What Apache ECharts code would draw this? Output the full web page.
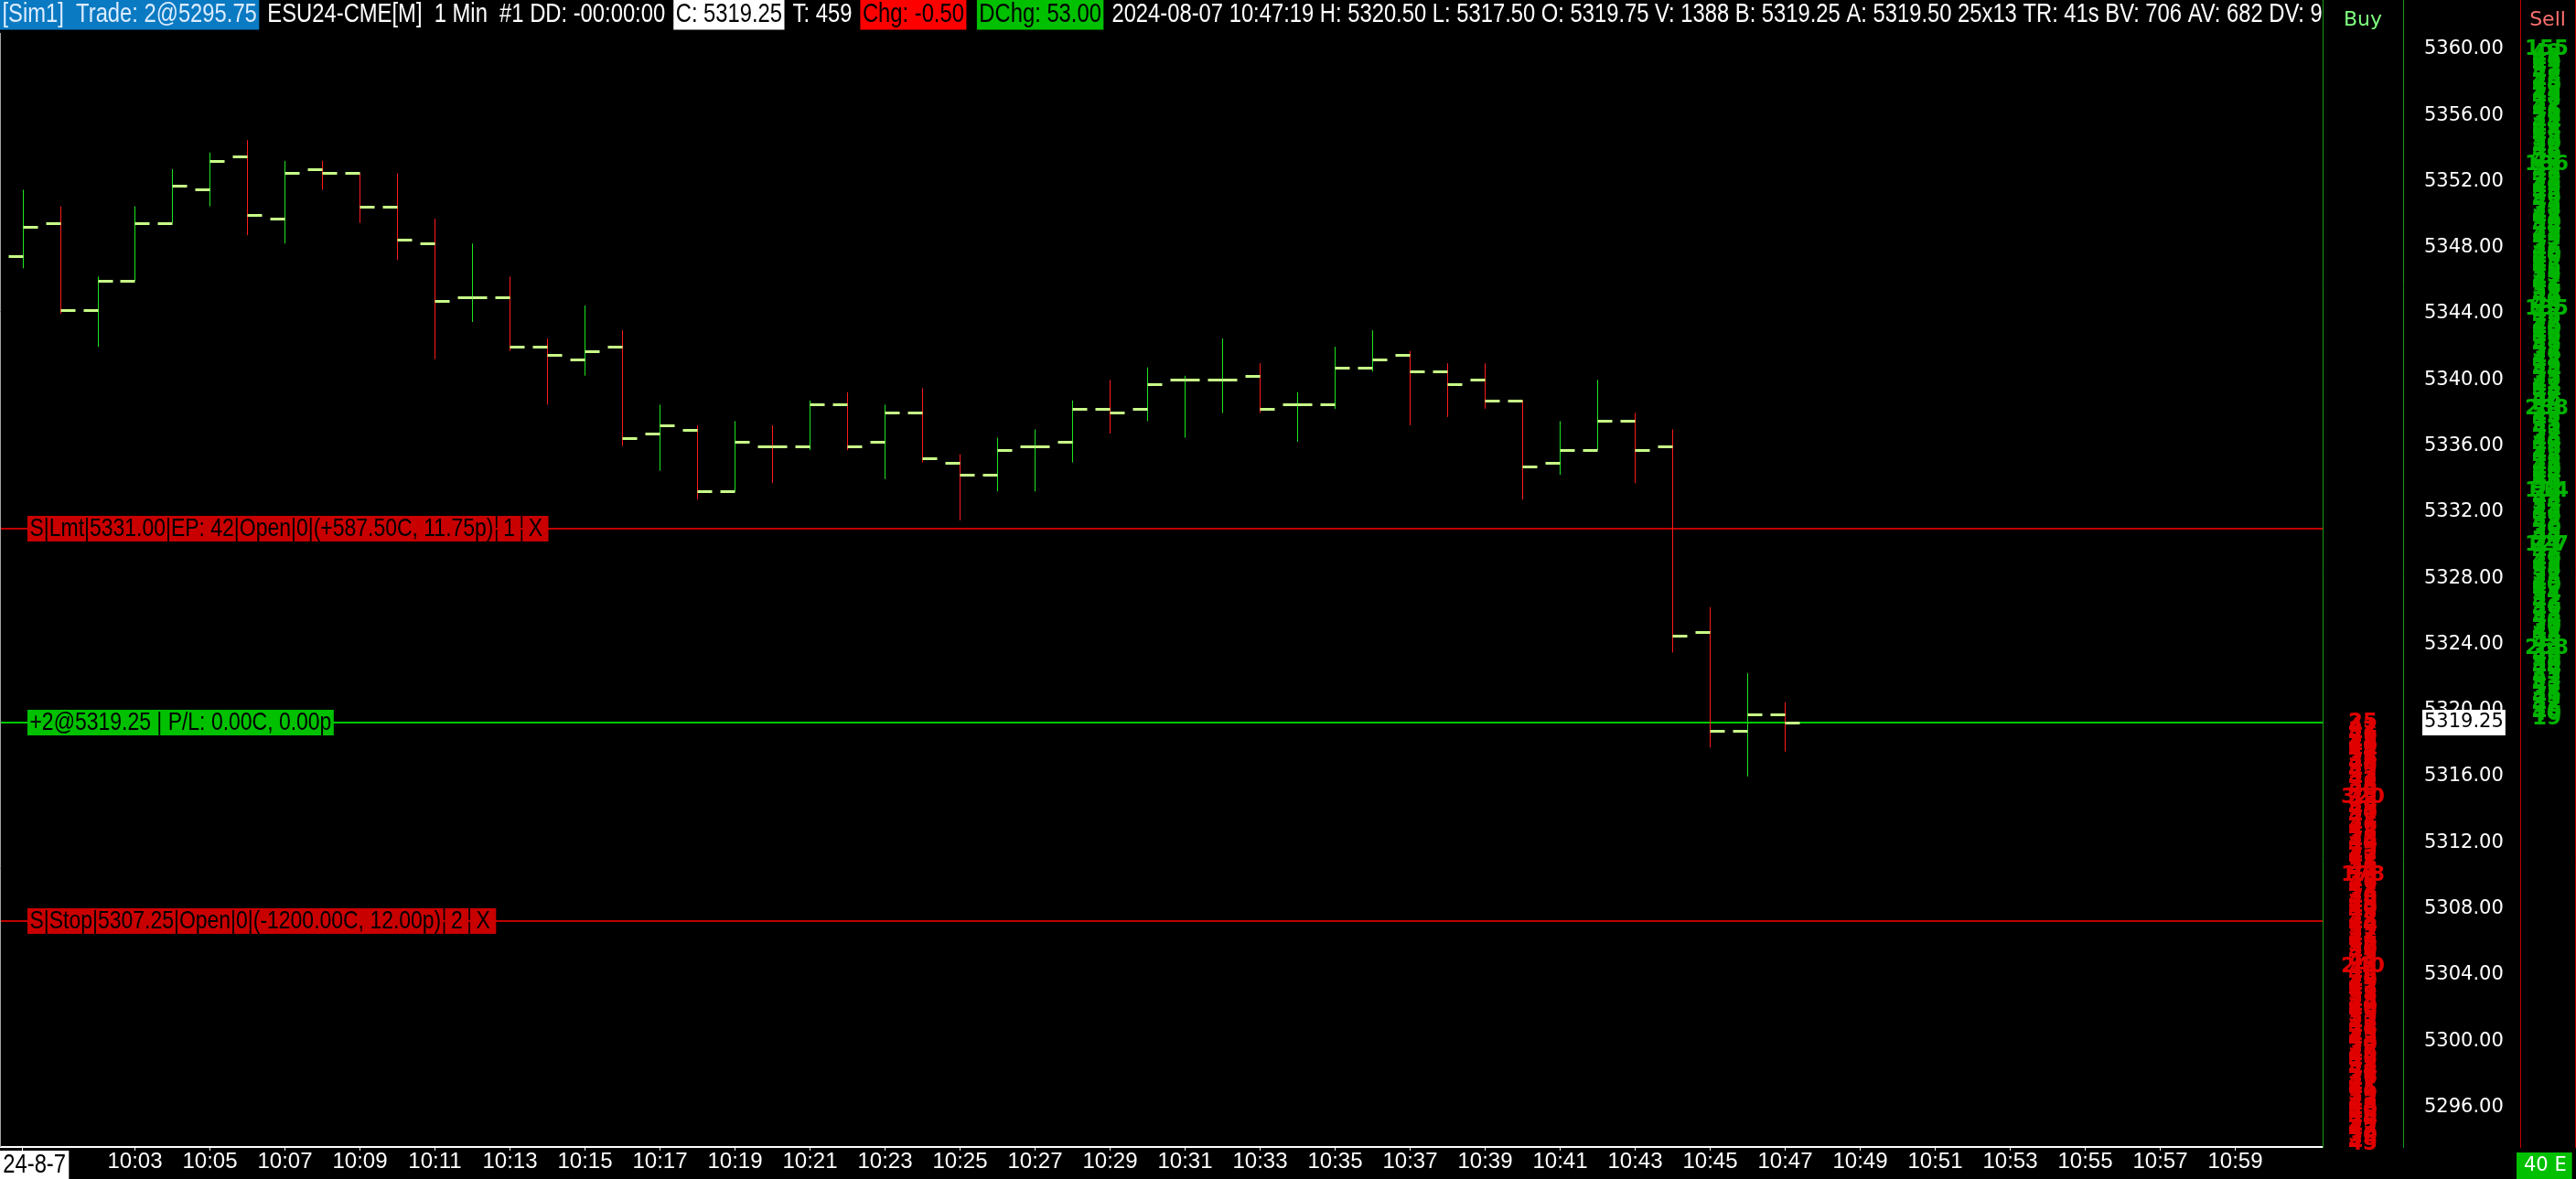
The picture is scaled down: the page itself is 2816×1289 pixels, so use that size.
<!DOCTYPE html>
<html>
<head>
<meta charset="utf-8">
<title>ESU24-CME[M] 1 Min</title>
<script src="https://cdn.jsdelivr.net/npm/echarts@6/dist/echarts.min.js"></script>
<style>
  html, body { margin: 0; padding: 0; background: #000; }
  #main { width: 2816px; height: 1289px; }
</style>
</head>
<body>
<div id="main"></div>
<script>
// one-minute bars, 10:00 .. 10:47
var barTimes = ['10:00','10:01','10:02','10:03','10:04','10:05','10:06','10:07','10:08','10:09',
                '10:10','10:11','10:12','10:13','10:14','10:15','10:16','10:17','10:18','10:19',
                '10:20','10:21','10:22','10:23','10:24','10:25','10:26','10:27','10:28','10:29',
                '10:30','10:31','10:32','10:33','10:34','10:35','10:36','10:37','10:38','10:39',
                '10:40','10:41','10:42','10:43','10:44','10:45','10:46','10:47'];
var opens  = [5347.50,5349.50,5344.25,5346.00,5349.50,5351.50,5353.50,5349.75,5352.75,5352.50,
              5350.50,5348.25,5345.00,5345.00,5342.00,5341.25,5342.00,5336.75,5337.00,5333.25,
              5336.00,5336.00,5338.50,5336.25,5338.00,5335.00,5334.25,5336.00,5336.25,5338.25,
              5338.25,5340.00,5340.00,5340.25,5338.50,5338.50,5340.75,5341.50,5340.50,5340.00,
              5338.75,5335.00,5335.75,5337.50,5336.00,5324.75,5318.75,5319.75];
var highs  = [5351.50,5350.50,5346.25,5350.50,5352.75,5353.75,5354.50,5353.25,5353.25,5352.50,
              5352.50,5349.75,5348.25,5346.25,5342.50,5344.50,5343.00,5338.50,5337.25,5337.50,
              5337.25,5338.75,5339.25,5338.50,5339.50,5335.50,5336.50,5337.00,5338.75,5340.00,
              5340.75,5340.25,5342.50,5341.00,5339.25,5342.00,5343.00,5341.75,5341.00,5341.00,
              5338.75,5337.50,5340.00,5338.00,5337.00,5326.25,5322.25,5320.50];
var lows   = [5346.75,5344.00,5342.00,5346.00,5349.50,5350.50,5348.75,5348.25,5351.50,5349.50,
              5347.25,5341.25,5343.50,5341.75,5338.50,5340.25,5336.00,5334.50,5332.75,5333.25,
              5333.75,5335.75,5335.75,5334.00,5335.00,5331.50,5333.25,5333.25,5335.00,5336.75,
              5337.50,5336.50,5338.00,5338.00,5336.25,5338.25,5340.50,5337.25,5337.75,5338.25,
              5332.75,5334.25,5335.75,5333.75,5323.50,5317.75,5316.00,5317.50];
var closes = [5349.25,5344.25,5346.00,5349.50,5351.75,5353.25,5350.00,5352.50,5352.50,5350.50,
              5348.50,5344.75,5345.00,5342.00,5341.50,5341.75,5336.50,5337.25,5333.25,5336.25,
              5336.00,5338.50,5336.00,5338.00,5335.25,5334.25,5335.75,5336.00,5338.25,5338.00,
              5339.75,5340.00,5340.00,5338.25,5338.50,5340.75,5341.25,5340.50,5339.75,5338.75,
              5334.75,5335.75,5337.50,5335.75,5324.50,5318.75,5319.75,5319.25];

var timeLabels = ['10:03','10:05','10:07','10:09','10:11','10:13','10:15','10:17','10:19','10:21',
                  '10:23','10:25','10:27','10:29','10:31','10:33','10:35','10:37','10:39','10:41',
                  '10:43','10:45','10:47','10:49','10:51','10:53','10:55','10:57','10:59'];
var priceLabels = [5296,5300,5304,5308,5312,5316,5320,5324,5328,5332,5336,5340,5344,5348,5352,5356,5360];

// working orders / position lines
var orderPrices = [5331.00, 5319.25, 5307.25];
var orderTexts  = ['S|Lmt|5331.00|EP: 42|Open|0|(+587.50C, 11.75p)',
                   '+2@5319.25 | P/L: 0.00C, 0.00p',
                   'S|Stop|5307.25|Open|0|(-1200.00C, 12.00p)'];
var orderButtons = [['1', 'X'], [], ['2', 'X']];
var orderKinds   = ['sell', 'position', 'sell'];
var lastPrice = 5319.25;

// depth columns, one size per 0.25 tick
var sellStart = 5319.50;   // upward
var sellSizes = [19,40,36,42,31,45,38,52,47,33,41,29,44,50,37,46,
                 39,258,43,35,48,41,30,55,44,38,49,36,42,51,34,47,
                 40,45,33,52,38,43,49,36,47,41,127,39,44,35,50,42,
                 37,46,41,53,34,48,39,114,51,36,43,44,40,47,38,45,
                 42,36,49,44,38,52,41,35,47,43,50,238,39,46,37,44,
                 48,41,35,53,44,39,47,42,36,51,45,38,49,43,40,46,
                 37,45,42,135,48,39,44,51,36,47,41,53,38,45,42,49,
                 40,46,37,52,43,48,35,44,50,41,47,38,53,42,36,45,
                 49,43,38,47,41,52,136,44,39,46,42,50,37,45,48,41,
                 44,39,51,46,42,37,48,43,53,40,45,38,47,52,41,46,
                 43,49,155];
var buyStart = 5319.25;    // downward
var buySizes = [25,41,37,46,33,48,40,44,51,36,43,39,47,52,42,38,
                45,39,320,48,36,43,50,41,37,46,42,53,38,44,49,35,
                47,42,38,51,44,178,39,46,41,53,36,45,49,40,43,37,
                48,44,39,52,41,46,37,50,43,38,47,240,42,45,36,49,
                41,47,38,53,44,40,46,35,51,42,48,39,45,43,50,37,
                46,42,49,38,44,51,36,47,41,45,39,52,43,48,40,46,
                44,39,47,42,50,38,45];

function toMin(t) {
    var p = t.split(':');
    return (+p[0] - 10) * 60 + (+p[1]);
}

// narrow font if installed, else squeeze the regular one
var probe = document.createElement('canvas').getContext('2d');
function textWidth(f) {
    probe.font = '40px ' + f;
    return probe.measureText('10:03 Trade 5319.25').width;
}
var hasNarrow = textWidth('"Liberation Sans Narrow", monospace') !== textWidth('monospace');
var NARROW = hasNarrow ? '"Liberation Sans Narrow"' : '"Liberation Sans", Arial, sans-serif';
var squeeze = hasNarrow ? 1 : 0.82;
var WIDE = '"DejaVu Sans", Verdana, sans-serif';
var F = 29;

var myChart = echarts.init(document.getElementById('main'));

function renderBar(params, api) {
    var i = params.dataIndex;
    var x = Math.round(api.coord([api.value(0), api.value(1)])[0]) + 0.5;
    var yO = Math.round(api.coord([0, api.value(1)])[1]);
    var yH = api.coord([0, api.value(2)])[1];
    var yL = api.coord([0, api.value(3)])[1];
    var yC = Math.round(api.coord([0, api.value(4)])[1]);
    var up = closes[i] > opens[i] || (closes[i] === opens[i] && (i === 0 || closes[i] >= closes[i - 1]));
    return {
        type: 'group',
        children: [
            { type: 'line', shape: { x1: x, y1: yH, x2: x, y2: yL },
              style: { stroke: up ? '#1ee61e' : '#ff1a1a', lineWidth: 1 } },
            { type: 'rect', shape: { x: x - 16, y: yO - 1, width: 16, height: 3 }, style: { fill: '#c8ff88' } },
            { type: 'rect', shape: { x: x, y: yC - 1, width: 16, height: 3 }, style: { fill: '#c8ff88' } }
        ]
    };
}

function renderOrder(params, api) {
    var i = params.dataIndex;
    var cs = params.coordSys;
    var y = Math.round(api.coord([0, api.value(1)])[1]);
    var col = orderKinds[i] === 'position' ? '#00c000' : '#c80000';
    var lineCol = orderKinds[i] === 'position' ? '#00c800' : '#c00000';
    var txt = '{m|' + orderTexts[i] + '}';
    orderButtons[i].forEach(function (b) { txt += '{s| }{k|' + b + '}'; });
    return {
        type: 'group',
        children: [
            { type: 'line', shape: { x1: cs.x, y1: y, x2: cs.x + cs.width, y2: y },
              style: { stroke: lineCol, lineWidth: 2 } },
            { type: 'text', x: 30, y: y, scaleX: squeeze,
              style: {
                  text: txt, verticalAlign: 'middle', fill: '#000',
                  fontSize: 28, fontFamily: NARROW,
                  rich: {
                      m: { backgroundColor: col, fill: '#000', padding: [0, 3], lineHeight: 30, fontSize: 28, fontFamily: NARROW },
                      k: { backgroundColor: col, fill: '#000', padding: [0, 8], lineHeight: 30, fontSize: 28, fontFamily: NARROW },
                      s: { width: 2, lineHeight: 30, fontSize: 28 }
                  }
              } }
        ]
    };
}

function ladderRenderer(offset, color) {
    return function (params, api) {
        var cs = params.coordSys;
        var y = api.coord([0, api.value(1)])[1];
        return {
            type: 'text', x: cs.x + cs.width + offset, y: y,
            style: { text: String(api.value(2)), fill: color, fontSize: 23, fontWeight: 'bold',
                     fontFamily: WIDE, align: 'center', verticalAlign: 'middle' }
        };
    };
}

function renderTag(params, api) {
    var cs = params.coordSys;
    var y = Math.round(api.coord([0, api.value(1)])[1]);
    return {
        type: 'text', x: cs.x + cs.width + 109, y: y,
        style: { text: api.value(1).toFixed(2), fill: '#000', backgroundColor: '#fff',
                 padding: [4, 2, 3, 2], fontSize: 21, fontFamily: WIDE, verticalAlign: 'middle' }
    };
}

var header = '{b|[Sim1]  Trade: 2@5295.75}{w| ESU24-CME[M]  1 Min  #1 DD: -00:00:00 }' +
    '{c|C: 5319.25}{w| T: 459 }{r|Chg: -0.50}{w| }{g|DChg: 53.00}' +
    '{w| 2024-08-07 10:47:19 H: 5320.50 L: 5317.50 O: 5319.75 V: 1388 B: 5319.25 A: 5319.50 25x13 TR: 41s BV: 706 AV: 682 DV: 9}';
function tok(bg, fg) {
    var s = { fill: fg, padding: [2, 3, 2, 3], lineHeight: 32, fontSize: F, fontFamily: NARROW };
    if (bg) s.backgroundColor = bg;
    return s;
}

var option = {
    backgroundColor: '#000',
    animation: false,
    grid: { left: 0, right: 277, top: 32, bottom: 35 },
    xAxis: {
        type: 'value',
        min: -0.5976,
        max: 61.33,
        axisLine: { lineStyle: { color: '#fff', width: 2 } },
        axisTick: { customValues: ['10:00'].concat(timeLabels).map(toMin), length: 4, lineStyle: { color: '#fff' } },
        axisLabel: {
            customValues: timeLabels.map(toMin),
            formatter: function (v) {
                var h = 10 + Math.floor(v / 60), m = v % 60;
                return h + ':' + (m < 10 ? '0' : '') + m;
            },
            color: '#fff', fontFamily: NARROW, fontSize: hasNarrow ? 29 : 24, margin: 4
        },
        splitLine: { show: false }
    },
    yAxis: {
        type: 'value',
        position: 'right',
        min: 5293.586,
        max: 5361.212,
        axisLine: { show: false },
        axisTick: { show: false },
        splitLine: { show: false },
        axisLabel: {
            customValues: priceLabels,
            formatter: function (v) { return v.toFixed(2); },
            color: '#fff', fontFamily: WIDE, fontSize: 21, margin: 111
        }
    },
    graphic: [
        { type: 'text', x: 0, y: 0, z: 10,
          style: { text: header, verticalAlign: 'top', fontSize: F, fontFamily: NARROW, fill: '#fff',
                   rich: { b: tok('#0a7ac2', '#dcecff'), w: tok(null, '#fff'), c: tok('#fff', '#000'),
                           r: tok('#ff0000', '#000'), g: tok('#00c000', '#000') } },
          scaleX: squeeze },
        { type: 'rect', z: 11, shape: { x: 2540, y: 0, width: 276, height: 40 }, style: { fill: '#000' } },
        { type: 'line', z: 12, shape: { x1: 0.5, y1: 36, x2: 0.5, y2: 1254 }, style: { stroke: '#a0a0a0', lineWidth: 1 } },
        { type: 'line', z: 12, shape: { x1: 2539.5, y1: 0, x2: 2539.5, y2: 1255 }, style: { stroke: '#1a9a1a', lineWidth: 1 } },
        { type: 'line', z: 12, shape: { x1: 2627.5, y1: 0, x2: 2627.5, y2: 1255 }, style: { stroke: '#1a9a1a', lineWidth: 1 } },
        { type: 'line', z: 12, shape: { x1: 2755.5, y1: 0, x2: 2755.5, y2: 1255 }, style: { stroke: '#c00000', lineWidth: 1 } },
        { type: 'line', z: 12, shape: { x1: 2815.5, y1: 0, x2: 2815.5, y2: 1255 }, style: { stroke: '#c00000', lineWidth: 1 } },
        { type: 'text', z: 12, x: 2583, y: 22,
          style: { text: 'Buy', fill: '#7fff7f', fontSize: 22, fontFamily: WIDE, align: 'center', verticalAlign: 'middle' } },
        { type: 'text', z: 12, x: 2785, y: 22,
          style: { text: 'Sell', fill: '#ff7070', fontSize: 22, fontFamily: WIDE, align: 'center', verticalAlign: 'middle' } },
        { type: 'text', z: 12, x: 0, y: 1258, scaleX: squeeze,
          style: { text: '24-8-7', fill: '#000', backgroundColor: '#fff', padding: [2, 4, 2, 4],
                   fontSize: F, fontFamily: NARROW, lineHeight: 28, verticalAlign: 'top' } },
        { type: 'text', z: 12, x: 2751, y: 1260,
          style: { text: '40 E', fill: '#fff', backgroundColor: '#00c000', padding: [4, 6, 3, 8],
                   fontSize: 21, fontFamily: WIDE, lineHeight: 22, verticalAlign: 'top' } }
    ],
    series: [
        {
            name: 'sell depth', type: 'custom', clip: false, silent: true,
            renderItem: ladderRenderer(245, '#00b400'),
            data: sellSizes.map(function (s, i) { return [0, sellStart + i * 0.25, s]; })
        },
        {
            name: 'buy depth', type: 'custom', clip: false, silent: true,
            renderItem: ladderRenderer(44, '#e00000'),
            data: buySizes.map(function (s, i) { return [0, buyStart - i * 0.25, s]; })
        },
        {
            name: 'orders', type: 'custom', clip: false, silent: true,
            renderItem: renderOrder,
            data: orderPrices.map(function (p) { return [0, p]; })
        },
        {
            name: 'ESU24', type: 'custom', silent: true,
            renderItem: renderBar,
            encode: { x: 0, y: [1, 2, 3, 4] },
            data: barTimes.map(function (t, i) { return [toMin(t), opens[i], highs[i], lows[i], closes[i]]; })
        },
        {
            name: 'last', type: 'custom', clip: false, silent: true,
            renderItem: renderTag,
            data: [[0, lastPrice]]
        }
    ]
};

myChart.setOption(option);
</script>
</body>
</html>
